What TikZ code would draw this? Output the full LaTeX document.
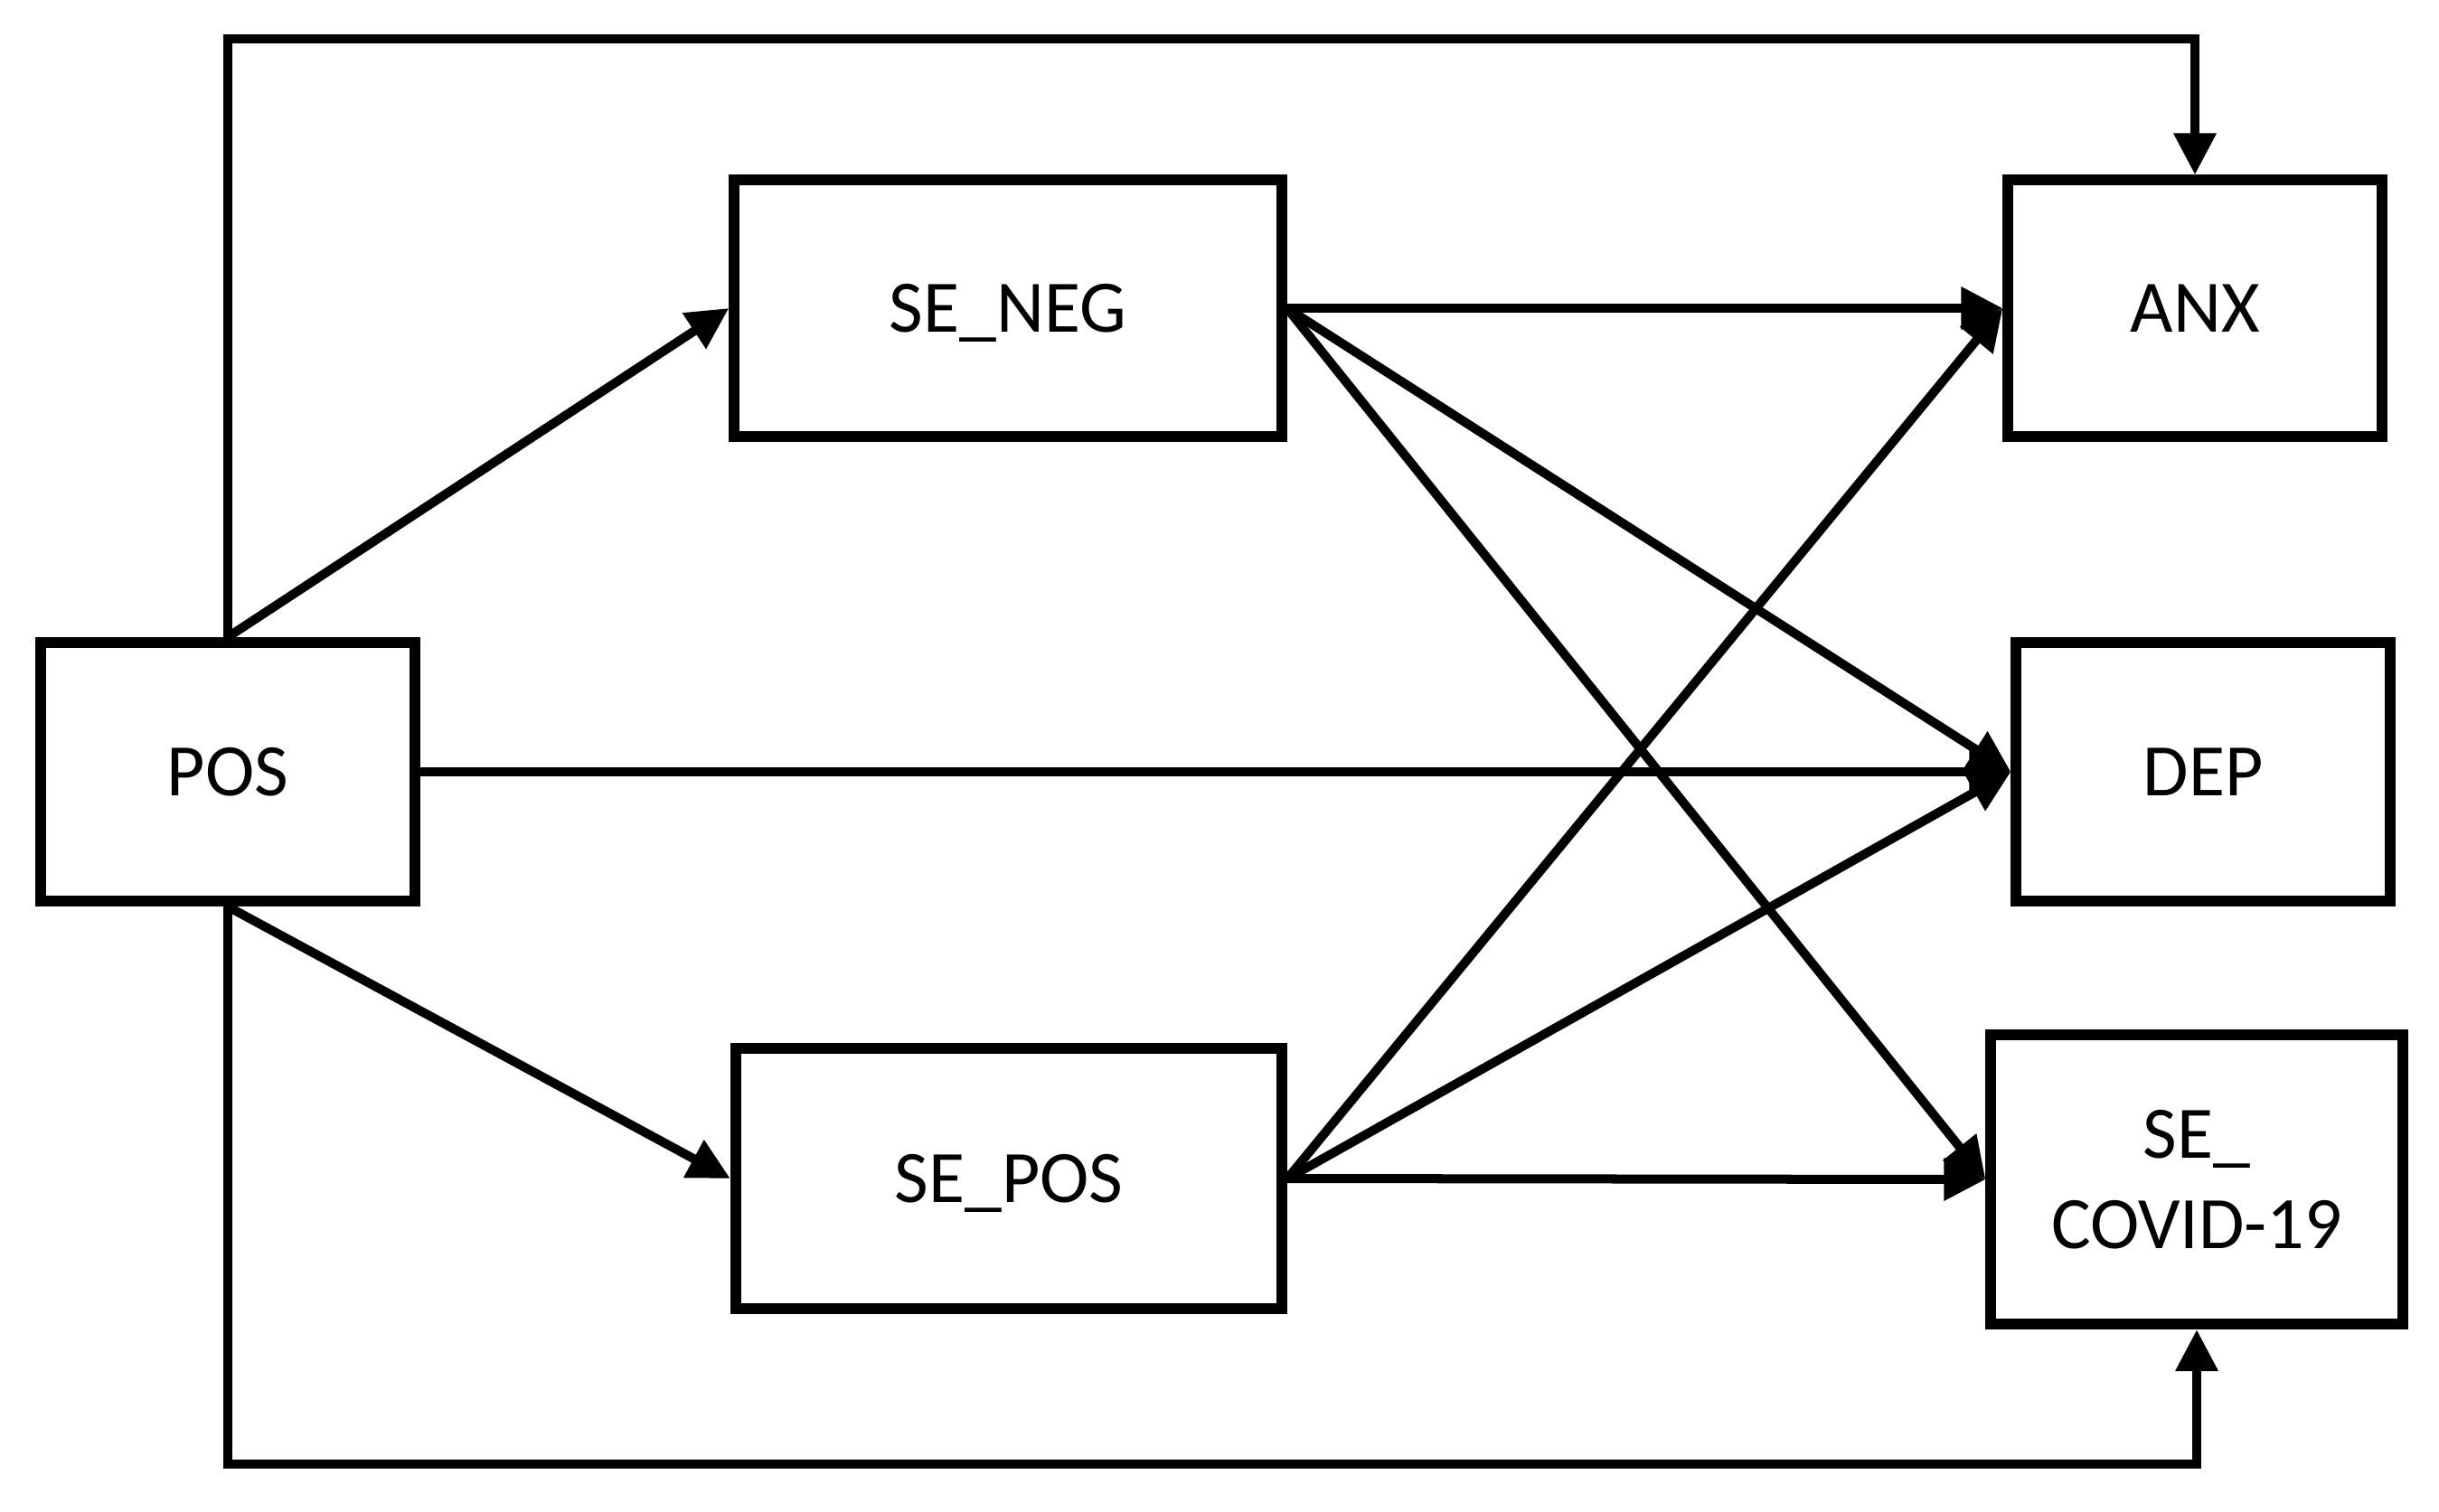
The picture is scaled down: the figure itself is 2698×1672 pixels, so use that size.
\documentclass[tikz,border=0pt]{standalone}
\usepackage{fontspec}
\setmainfont{Carlito}
\usepackage{tikz}
\usetikzlibrary{arrows.meta}
\tikzset{
	var/.style={draw, line width=0.12cm, rectangle, inner sep=0pt, align=center,
		text depth=0pt, font=\fontsize{23.3}{28.5}\selectfont},
	path/.style={line width=0.1cm, -{Triangle[length=0.46cm,width=0.45cm]}},
}

\begin{document}
\begin{tikzpicture}[x=0.01cm, y=-0.01cm]
\useasboundingbox (0,0) rectangle (2698,1672);

\node[var, minimum width=4.13cm, minimum height=2.86cm] (pos) at (252,854) {POS};
\node[var, minimum width=6.05cm, minimum height=2.84cm] (seneg) at (1115,341) {SE\_NEG};
\node[var, minimum width=6.04cm, minimum height=2.88cm] (sepos) at (1116,1304) {SE\_POS};
\node[var, minimum width=4.13cm, minimum height=2.83cm] (anx) at (2428,341) {ANX};
\node[var, minimum width=4.13cm, minimum height=2.86cm] (dep) at (2437,854) {DEP};
\node[var, minimum width=4.55cm, minimum height=3.2cm] (secov) at (2430,1305) {SE\_\\COVID-19};

\coordinate (topl) at (252,43);
\coordinate (topr) at (2428,43);
\coordinate (botl) at (252,1620);
\coordinate (botr) at (2430,1620);

\draw[path] (pos.north) -- (seneg.west);
\draw[path] (pos.south) -- (sepos.west);
\draw[path] (pos.east) -- (dep.west);

\draw[path] (seneg.east) -- (anx.west);
\draw[path] (seneg.east) -- (dep.west);
\draw[path] (seneg.east) -- (secov.west);

\draw[path] (sepos.east) -- (anx.west);
\draw[path] (sepos.east) -- (dep.west);
\draw[path] (sepos.east) -- (secov.west);

\draw[path] (pos.north) -- (topl) -- (topr) -- (anx.north);
\draw[path] (pos.south) -- (botl) -- (botr) -- (secov.south);
\end{tikzpicture}
\end{document}
